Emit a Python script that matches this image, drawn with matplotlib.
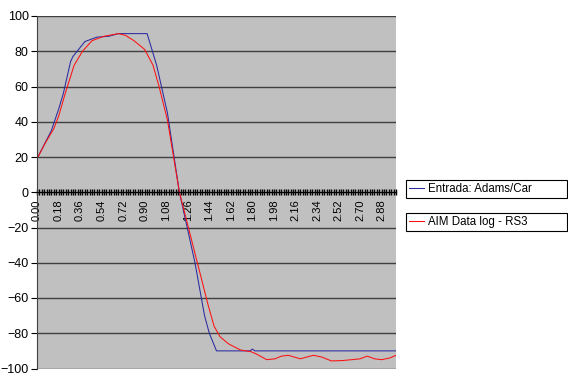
import numpy as np
import matplotlib.pyplot as plt
from matplotlib.ticker import MultipleLocator, FixedLocator

plt.rcParams['font.family'] = ['Liberation Sans', 'DejaVu Sans']

# tiempo (s) / valor de cada serie
entrada_t = [0.00, 0.06, 0.12, 0.18, 0.22, 0.28, 0.30, 0.40, 0.50, 0.60, 0.68, 0.92,
             1.00, 1.09, 1.19, 1.32, 1.40, 1.44, 1.50, 1.78, 1.80, 1.82, 3.00]
entrada_v = [19, 27, 35, 47, 56, 74, 77, 85.5, 88, 88.5, 90, 90,
             72, 45, 0, -40, -70, -80, -90, -90, -89, -90, -90]

aim_t = [0.00, 0.07, 0.14, 0.18, 0.24, 0.31, 0.38, 0.46, 0.56, 0.68, 0.74, 0.81,
         0.90, 0.97, 1.02, 1.09, 1.19, 1.34, 1.43, 1.48, 1.53, 1.60, 1.70, 1.79, 1.84,
         1.92, 1.99, 2.04, 2.10, 2.20, 2.31, 2.38, 2.46, 2.55, 2.63, 2.70, 2.76,
         2.82, 2.88, 2.95, 3.00]
aim_v = [19, 28, 36, 43, 57, 72, 80, 86, 88.5, 90, 89, 86,
         81, 72, 60, 41, 0, -40, -64, -76, -82, -86, -89.5, -90.5, -92,
         -95, -94.5, -93, -92.5, -94.5, -92.5, -93.5, -95.7, -95.5, -95, -94.5, -93,
         -94.5, -95, -94, -92.5]

tick_labels = ['0.00', '0.18', '0.36', '0.54', '0.72', '0.90', '1.08', '1.26', '1.44',
               '1.62', '1.80', '1.98', '2.16', '2.34', '2.52', '2.70', '2.88']

fig = plt.figure(figsize=(5.68, 3.84), dpi=100)
ax = fig.add_axes([37 / 568, 1 - 368.5 / 384, 359 / 568, 352.5 / 384])
ax.set_facecolor('#c0c0c0')

l1, = ax.plot(entrada_t, entrada_v, color='#2a2aa0', lw=0.75, label='Entrada: Adams/Car')
l2, = ax.plot(aim_t, aim_v, color='#ff1010', lw=0.75, label='AIM Data log - RS3')

ax.set_xlim(0, 3.0)
ax.set_ylim(-100, 100)
ax.yaxis.set_major_locator(MultipleLocator(20))
ax.yaxis.grid(True, color='#404040', lw=1)
ax.set_axisbelow(True)

ax.spines['top'].set_visible(False)
ax.spines['right'].set_visible(False)
ax.spines['bottom'].set_position(('data', 0))
ax.spines['bottom'].set_color('black')
ax.spines['left'].set_color('#404040')

ax.xaxis.set_major_locator(FixedLocator([float(s) for s in tick_labels]))
ax.set_xticklabels(tick_labels, rotation=90, fontsize=8)
ax.xaxis.set_minor_locator(MultipleLocator(0.02))
ax.tick_params(axis='x', which='both', direction='inout', length=4, width=1, pad=3)
ax.tick_params(axis='y', direction='out', length=4, labelsize=9, pad=2)
for lab in ax.get_xticklabels():
    lab.set_verticalalignment('top')

leg_kw = dict(loc='upper left', mode='expand', frameon=True, fancybox=False,
              edgecolor='black', framealpha=1, fontsize=8.3, borderpad=0.25,
              handlelength=1.3, handletextpad=0.4, borderaxespad=0)
leg1 = fig.legend(handles=[l1], bbox_to_anchor=(406 / 568, 1 - 184 / 384, 161 / 568, 0.01), **leg_kw)
leg2 = fig.legend(handles=[l2], bbox_to_anchor=(406 / 568, 1 - 217 / 384, 161 / 568, 0.01), **leg_kw)
for leg in (leg1, leg2):
    leg.get_frame().set_linewidth(0.8)

fig.savefig('out.png', dpi=100)
